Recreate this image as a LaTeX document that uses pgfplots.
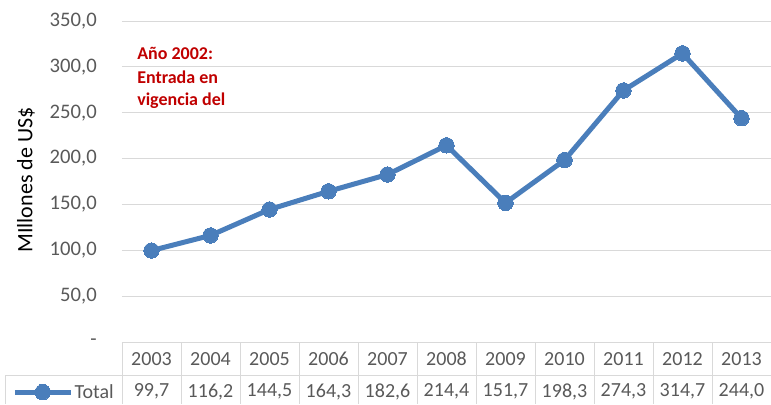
\documentclass[border=0pt]{standalone}
\usepackage{fontspec}
\setmainfont{Carlito}
\usepackage{pgfplots}
\pgfplotsset{compat=1.18}
\definecolor{serie}{HTML}{4A7EBB}
\definecolor{gridc}{HTML}{D9D9D9}
\definecolor{tickc}{HTML}{595959}
\definecolor{anno}{HTML}{C00000}
\begin{document}
\begin{tikzpicture}[x=0.75pt,y=0.75pt]
\path[use as bounding box] (0,0) rectangle (771,404);
\begin{axis}[
  at={(91.5pt,46.5pt)}, anchor=south west,
  width=486.75pt, height=240.75pt, scale only axis,
  xmin=-0.5, xmax=10.5, ymin=0, ymax=350,
  clip=false,
  axis line style={draw=none},
  major tick length=0pt,
  ytick={0,50,...,350},
  yticklabels={{-\hspace{5pt}},{50,0},{100,0},{150,0},{200,0},{250,0},{300,0},{350,0}},
  yticklabel style={anchor=east, inner sep=0pt, xshift=-18.75pt, text=tickc, font=\fontsize{15.5}{18}\selectfont},
  xtick={0,...,10},
  xticklabels={2003,2004,2005,2006,2007,2008,2009,2010,2011,2012,2013},
  xticklabel style={anchor=center, inner sep=0pt, yshift=-12.75pt, text=tickc, font=\fontsize{15}{18}\selectfont},
  ymajorgrids, grid style={draw=gridc, line width=0.75pt},
  /pgf/number format/assume math mode=true,
  legend style={at={(-0.1695,-0.156)}, anchor=west, draw=none, fill=none, inner sep=0pt,
    font=\fontsize{15}{18}\selectfont, text=tickc, nodes={inner sep=1pt}},
  legend image code/.code={\draw[#1, mark repeat=2, mark phase=2] plot coordinates {(0pt,0pt)(21pt,0pt)(42pt,0pt)};},
]
\addplot[serie, line width=3.75pt, mark=*, mark size=5.8pt, mark options={fill=serie, draw=serie, line width=0pt}]
coordinates {(0,99.7)(1,116.2)(2,144.5)(3,164.3)(4,182.6)(5,214.4)(6,151.7)(7,198.3)(8,274.3)(9,314.7)(10,244.0)};
\addlegendentry{Total}
\end{axis}
% data table
\begin{scope}[draw=gridc, line width=0.75pt]
\draw (122,62) -- (771,62);
\draw (5,29) -- (771,29);
\draw (5,29) -- (5,0);
\foreach \k in {0,...,11} {\draw ({122+59*\k},62) -- ({122+59*\k},0);}
\end{scope}
\foreach \v [count=\i from 0] in {{99,7},{116,2},{144,5},{164,3},{182,6},{214,4},{151,7},{198,3},{274,3},{314,7},{244,0}}
  {\node[text=tickc, font=\fontsize{15}{18}\selectfont, inner sep=0pt] at ({151.5+59*\i},12.3) {\v};}
% y label
\node[rotate=90, font=\fontsize{16.5}{18}\selectfont, inner sep=0pt] at (26,224) {MIllones de US\$};
% annotation
\begin{scope}[every node/.style={anchor=base west, inner sep=0pt, text=anno, font=\bfseries\fontsize{13.5}{16}\selectfont}]
\node at (137,344) {Año 2002:};
\node at (137,320.7) {Entrada en};
\node at (137,298) {vigencia del};
\end{scope}
\end{tikzpicture}
\end{document}
